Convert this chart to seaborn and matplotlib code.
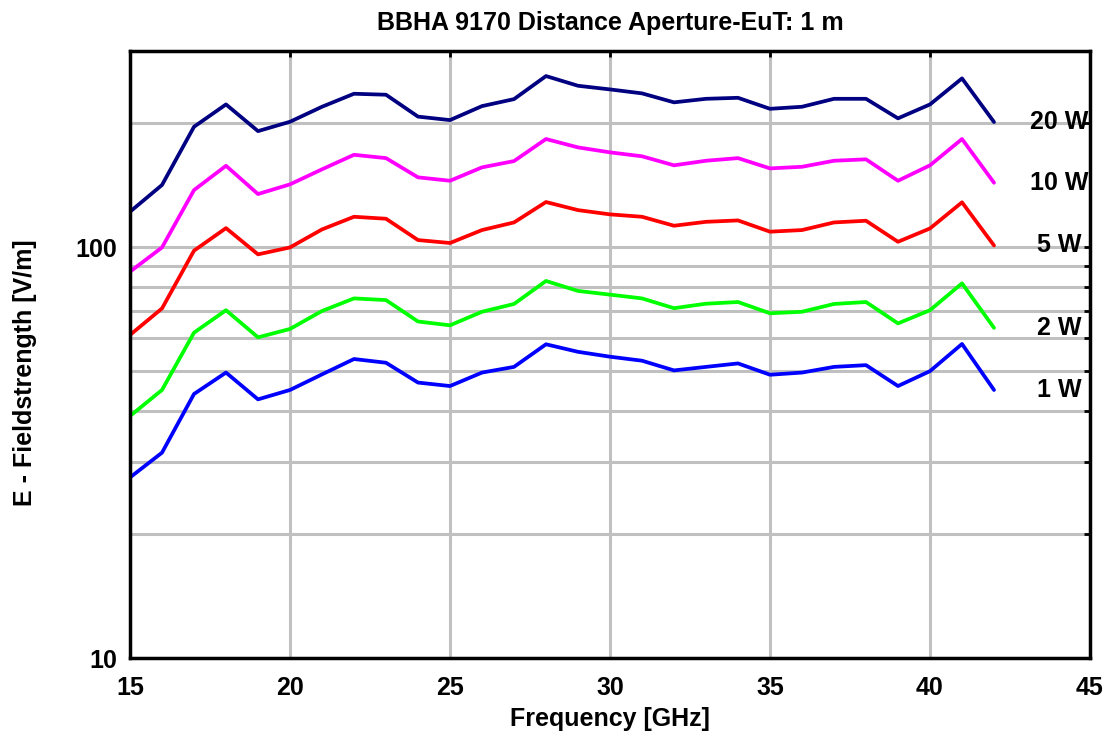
import pandas as pd
import matplotlib.pyplot as plt
import seaborn as sns
from matplotlib.ticker import FixedLocator, NullFormatter

# Frequency points [GHz]
freq = list(range(15, 43))

# Field strength [V/m] per forward power
e_20w = [121.9, 141.6, 196.2, 222.4, 191.5, 201.8, 219.5, 236.1, 234.8, 207.7,
         203.7, 220.3, 229.1, 260.7, 246.9, 241.9, 236.6, 225.0, 229.5, 230.8,
         217.0, 219.5, 229.5, 229.5, 205.7, 222.4, 257.3, 201.5]
e_10w = [87.1, 99.8, 137.6, 157.7, 134.6, 142.1, 154.6, 167.7, 164.6, 147.8,
         145.0, 156.3, 161.9, 183.2, 174.8, 170.0, 166.3, 158.1, 162.2, 164.6,
         155.4, 156.8, 162.2, 163.5, 145.0, 158.1, 183.2, 143.4]
e_5w = [61.1, 70.9, 98.0, 111.2, 96.0, 99.8, 110.4, 118.5, 117.2, 104.0,
        102.3, 110.0, 114.8, 128.7, 123.0, 120.1, 118.5, 112.7, 115.2, 116.1,
        109.0, 110.0, 114.8, 115.9, 103.0, 111.0, 128.5, 100.9]
e_2w = [38.8, 44.9, 61.9, 70.2, 60.3, 63.2, 69.9, 75.0, 74.3, 65.9,
        64.5, 69.6, 72.7, 82.7, 78.2, 76.6, 75.0, 71.0, 72.8, 73.5,
        69.0, 69.6, 72.7, 73.5, 65.2, 70.2, 81.6, 63.6]
e_1w = [27.5, 31.6, 43.9, 49.5, 42.6, 44.9, 49.0, 53.4, 52.3, 46.8,
        45.9, 49.5, 51.1, 58.0, 55.6, 54.1, 52.9, 50.1, 51.1, 52.1,
        48.9, 49.5, 51.1, 51.6, 45.9, 49.9, 58.1, 44.9]

powers = ['20 W', '10 W', '5 W', '2 W', '1 W']
colors = ['#000080', '#ff00ff', '#ff0000', '#00ff00', '#0000ff']
series = [e_20w, e_10w, e_5w, e_2w, e_1w]

# long-form table for seaborn
df = pd.concat([pd.DataFrame({'freq': freq, 'E': vals, 'power': p})
                for p, vals in zip(powers, series)], ignore_index=True)

sns.set_style('white')
plt.rcParams['font.family'] = ['Liberation Sans', 'DejaVu Sans']
plt.rcParams['font.weight'] = 'bold'
plt.rcParams['text.color'] = 'black'
plt.rcParams['axes.labelcolor'] = 'black'
plt.rcParams['xtick.color'] = 'black'
plt.rcParams['ytick.color'] = 'black'

fig = plt.figure(figsize=(11.07, 7.33), dpi=100)
ax = fig.add_axes([130 / 1107, 1 - 658 / 733, 960 / 1107, 607 / 733])

sns.lineplot(data=df, x='freq', y='E', hue='power', hue_order=powers,
             palette=colors, linewidth=2.7, legend=False, ax=ax, zorder=3)

ax.set_yscale('log')
ax.set_xlim(15, 45)
ax.set_ylim(10, 300)

ax.xaxis.set_major_locator(FixedLocator([15, 20, 25, 30, 35, 40, 45]))
ax.yaxis.set_major_locator(FixedLocator([10, 100]))
ax.yaxis.set_minor_locator(FixedLocator([20, 30, 40, 50, 60, 70, 80, 90, 200, 300]))
ax.yaxis.set_minor_formatter(NullFormatter())
ax.set_yticklabels(['10', '100'])

ax.tick_params(axis='both', which='both', direction='in', top=True, right=True,
               length=4, width=2, color='black', labelcolor='black', labelsize=18)
ax.tick_params(axis='x', pad=13)
ax.tick_params(axis='y', pad=9)

ax.grid(True, which='major', axis='both', color='#c0c0c0', linewidth=2.2, zorder=0)
ax.grid(True, which='minor', axis='y', color='#c0c0c0', linewidth=2.2, zorder=0)
ax.set_axisbelow(True)

for s in ax.spines.values():
    s.set_color('black')
    s.set_linewidth(2.5)
    s.set_zorder(4)

# power labels next to the last point of each curve
for p, vals in zip(powers, series):
    ax.text(44.05, vals[-1], p, ha='center', va='center', fontsize=18,
            fontweight='bold', color='black', zorder=5)

ax.set_title('BBHA 9170 Distance Aperture-EuT: 1 m', fontsize=18,
             fontweight='bold', color='black', pad=15)
ax.set_xlabel('Frequency [GHz]', fontsize=18, fontweight='bold', labelpad=5)
ax.set_ylabel('E - Fieldstrength [V/m]', fontsize=18, fontweight='bold')
ax.yaxis.set_label_coords(-0.097, 0.4695)

fig.savefig('out.png', dpi=100)
